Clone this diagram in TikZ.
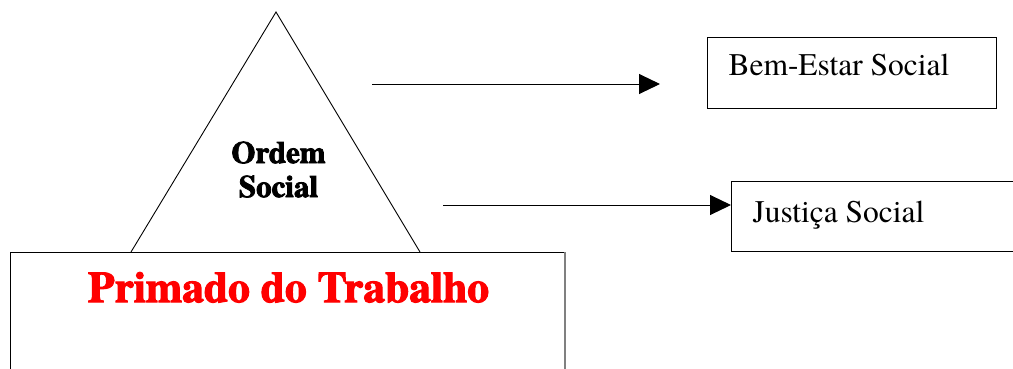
\documentclass[tikz,border=0pt]{standalone}
\usepackage{fontspec}
\setmainfont{texgyretermes-regular.otf}[BoldFont=texgyretermes-bold.otf]
\newfontfamily\heavy{texgyretermes-regular.otf}[BoldFont=texgyretermes-bold.otf,BoldFeatures={FakeBold=2.5}]
\usetikzlibrary{arrows.meta}
\definecolor{boxred}{RGB}{255,0,0}
\begin{document}
\begin{tikzpicture}[x=1pt,y=-1pt,line width=1pt,
  box/.style={draw,rectangle,inner sep=0pt,anchor=north west},
  lbl/.style={anchor=base west,inner sep=0pt,font=\fontsize{31.5}{34}\selectfont},
  arr/.style={-{Triangle[length=21pt,width=20pt]}}]
\useasboundingbox (0,0) rectangle (1013,368);
\clip (0,0) rectangle (1013,368);
% triangle
\coordinate (apex) at (276,12);
\coordinate (bl) at (131,252);
\coordinate (br) at (420,252);
\draw[line width=0.9pt] (bl) -- (apex) -- (br);
\node[anchor=base,inner sep=0pt,align=center,font=\heavy\bfseries\fontsize{31}{34}\selectfont] (ordem) at (278.5,197) {Ordem\\Social};
% main box
\node[box,fill=white,minimum width=554pt,minimum height=160pt] (main) at (10,252) {};
\draw[gray,line width=2pt] (main.north east) -- (main.south east);
\node[anchor=base,inner sep=0pt,text=boxred,font=\heavy\bfseries\fontsize{43.5}{46}\selectfont] (prim) at (288.5,302) {Primado do Trabalho};
% right boxes
\node[box,minimum width=289pt,minimum height=71pt] (bem) at (707,37) {};
\node[lbl] (bemtxt) at (728,75) {Bem-Estar Social};
\node[box,minimum width=300pt,minimum height=70pt] (jus) at (731,181) {};
\node[lbl] (justxt) at (752,222) {Justiça Social};
% arrows
\coordinate (a1s) at (372,84);
\coordinate (a1e) at (660,84);
\draw[arr] (a1s) -- (a1e);
\coordinate (a2s) at (443,205);
\draw[arr] (a2s) -- (a2s -| jus.west);
\end{tikzpicture}
\end{document}
